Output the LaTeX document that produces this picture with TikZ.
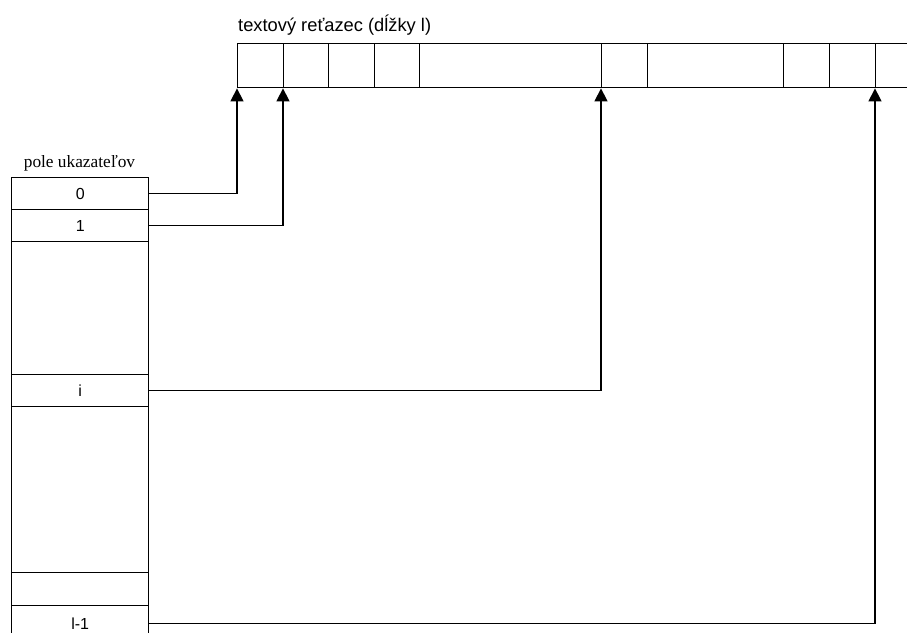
\documentclass[tikz,border=0pt]{standalone}
\usepackage{fontspec}
\setmainfont{Liberation Serif}
\setsansfont{Liberation Sans}
\usetikzlibrary{arrows.meta}
\begin{document}
\begin{tikzpicture}[x=1pt,y=-1pt,
  cellbox/.style={draw=black, line width=1.4pt, fill=white, inner sep=0pt, anchor=north west, minimum height=44pt},
  rowbox/.style={draw=black, line width=1.4pt, fill=white, inner sep=0pt, anchor=north west, minimum width=137pt, font=\sffamily\fontsize{16}{19}\selectfont},
  ptr/.style={draw=black, line width=1.4pt, -{Triangle[width=13pt,length=13pt]}}]
\useasboundingbox (0,0) rectangle (907,632);
\clip (0,0) rectangle (907,632);
% text string cells
\node[cellbox, minimum width=46pt] (c1) at (237,43) {};
\node[cellbox, minimum width=45pt] (c2) at (283,43) {};
\node[cellbox, minimum width=46pt] (c3) at (328,43) {};
\node[cellbox, minimum width=45pt] (c4) at (374,43) {};
\node[cellbox, minimum width=182pt] (c5) at (419,43) {};
\node[cellbox, minimum width=46pt] (c6) at (601,43) {};
\node[cellbox, minimum width=136pt] (c7) at (647,43) {};
\node[cellbox, minimum width=46pt] (c8) at (783,43) {};
\node[cellbox, minimum width=46pt] (c9) at (829,43) {};
\node[cellbox, minimum width=60pt] (c10) at (875,43) {};
\node[anchor=base west, inner sep=0pt, font=\sffamily\fontsize{18.3}{21}\selectfont] (title) at (238,31) {textový reťazec (dĺžky l)};
% pointer array
\node[anchor=base, inner sep=0pt, font=\fontsize{17.3}{21}\selectfont] (ptitle) at (79.5,167) {pole ukazateľov};
\node[rowbox, minimum height=32pt] (r0) at (11,177) {0};
\node[rowbox, minimum height=32pt] (r1) at (11,209) {1};
\node[rowbox, minimum height=133pt] (g1) at (11,241) {};
\node[rowbox, minimum height=32pt] (ri) at (11,374) {i};
\node[rowbox, minimum height=166pt] (g2) at (11,406) {};
\node[rowbox, minimum height=33pt] (rb) at (11,572) {};
\node[rowbox, minimum height=35pt] (rl) at (11,605) {l-1};
% pointers
\draw[ptr] (r0.east) -| (c1.south west);
\draw[ptr] (r1.east) -| (c2.south west);
\draw[ptr] (ri.east) -| (c6.south west);
\draw[ptr] (rl.east) -| (c10.south west);
\end{tikzpicture}
\end{document}
